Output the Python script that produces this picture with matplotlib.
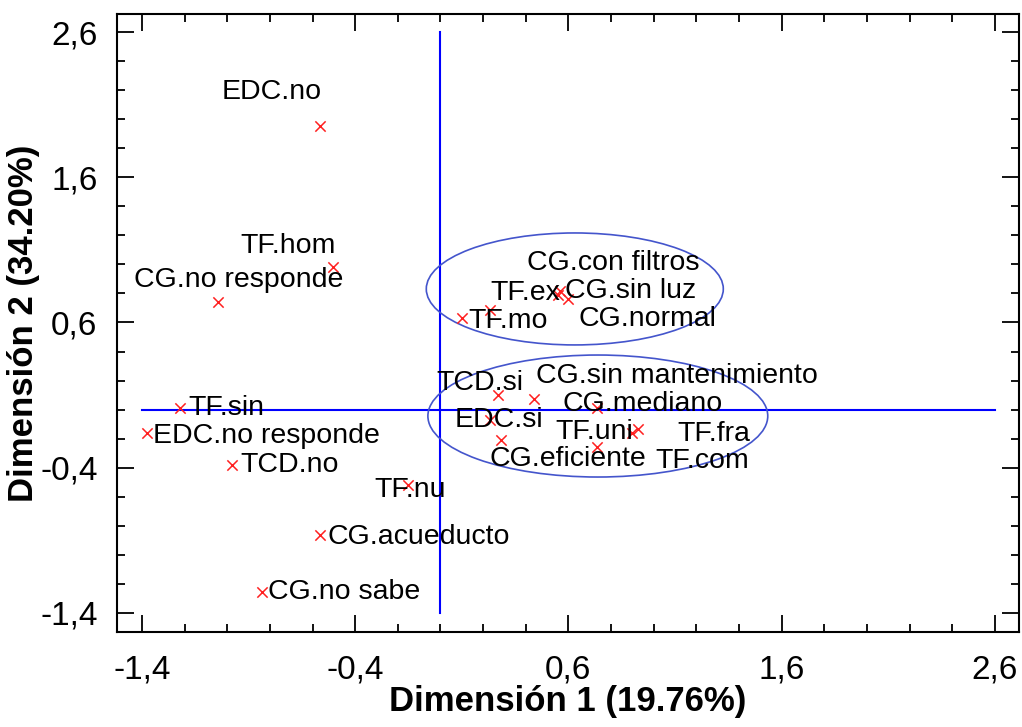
import matplotlib
matplotlib.use("Agg")
from matplotlib import pyplot as plt
from matplotlib.patches import Ellipse
from matplotlib.ticker import MultipleLocator, FuncFormatter

plt.rcParams['font.family'] = ['Liberation Sans', 'DejaVu Sans']

# categorias y coordenadas en las dos dimensiones
categorias = ['EDC.no', 'TF.hom', 'CG.no responde', 'TF.sin', 'EDC.no responde',
              'TCD.no', 'TF.nu', 'CG.acueducto', 'CG.no sabe',
              'CG.con filtros', 'TF.ex', 'CG.sin luz', 'TF.mo', 'CG.normal',
              'TCD.si', 'CG.sin mantenimiento', 'CG.mediano', 'EDC.si',
              'TF.uni', 'TF.fra', 'CG.eficiente', 'TF.com']
dim1 = [-0.565, -0.504, -1.044, -1.222, -1.377,
        -0.978, -0.153, -0.565, -0.837,
        0.56, 0.232, 0.551, 0.101, 0.60,
        0.269, 0.438, 0.734, 0.232,
        0.734, 0.926, 0.283, 0.90]
dim2 = [1.953, 0.982, 0.741, 0.011, -0.161,
        -0.381, -0.519, -0.863, -1.255,
        0.82, 0.686, 0.789, 0.631, 0.76,
        0.101, 0.073, 0.011, -0.071,
        -0.257, -0.133, -0.209, -0.16]

# desplazamiento de las etiquetas (pixeles)
despl = [(-98, 34), (-93, 21), (-84, 22), (8, 0), (6, -3),
         (8, 0), (-33, -5), (7, -2), (6, 0),
         (-33, 28), (0, 17), (7, 4), (6, -3), (10, -20),
         (-61, 12), (2, 23), (-34, 4), (-35, 0),
         (-42, 15), (39, -5), (-11, -19), (23, -28)]

# grupos (elipses): centro, ancho, alto
elipses = [((0.630, 0.831), 1.393, 0.771),
           ((0.738, -0.044), 1.594, 0.840)]

fig = plt.figure(figsize=(10.22, 7.27), dpi=100)
ax = fig.add_axes([0.1145, 0.1307, 0.8825, 0.85])

ax.plot([0, 0], [-1.4, 2.6], color='#0000ff', lw=1.5, zorder=1)
ax.plot([-1.4, 2.6], [0, 0], color='#0000ff', lw=1.5, zorder=1)

for c, w, h in elipses:
    ax.add_patch(Ellipse(c, w, h, fill=False, edgecolor='#4455cc', lw=1.2, zorder=1))

ax.scatter(dim1, dim2, marker='x', color='#ff2020', s=55, linewidths=1.1, zorder=2)

for nombre, x, y, d in zip(categorias, dim1, dim2, despl):
    ax.annotate(nombre, (x, y), xytext=d, textcoords='offset pixels',
                ha='left', va='center', fontsize=20.5, color='black', zorder=3)

ax.set_xlim(-1.517, 2.713)
ax.set_ylim(-1.531, 2.724)

ax.xaxis.set_major_locator(MultipleLocator(1.0, offset=0.6))
ax.yaxis.set_major_locator(MultipleLocator(1.0, offset=0.6))
ax.xaxis.set_minor_locator(MultipleLocator(0.2))
ax.yaxis.set_minor_locator(MultipleLocator(0.2))
fmt = FuncFormatter(lambda v, p: ('%.1f' % v).replace('.', ','))
ax.xaxis.set_major_formatter(fmt)
ax.yaxis.set_major_formatter(fmt)

ax.tick_params(which='both', direction='in', top=True, right=True, width=1.3, labelsize=24)
ax.tick_params(axis='x', which='major', length=12, pad=16)
ax.tick_params(axis='y', which='major', length=12, pad=14)
ax.tick_params(which='minor', length=6)
for s in ax.spines.values():
    s.set_linewidth(1.5)

ax.set_xlabel('Dimensión 1 (19.76%)', fontsize=25, fontweight='bold', labelpad=0)
ax.set_ylabel('Dimensión 2 (34.20%)', fontsize=25, fontweight='bold', labelpad=0)

fig.savefig('out.png', dpi=100)
